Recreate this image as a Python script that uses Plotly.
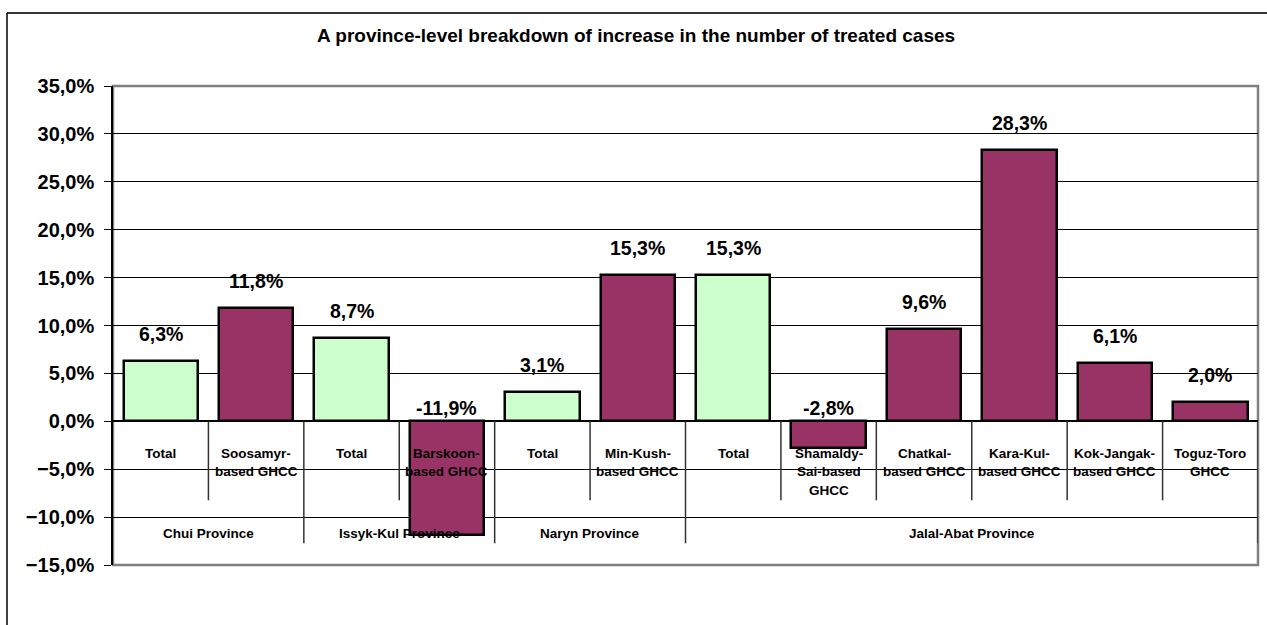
import plotly.graph_objects as go

# Data
categories = [
    "Total", "Soosamyr-<br>based GHCC",
    "Total", "Barskoon-<br>based GHCC",
    "Total", "Min-Kush-<br>based GHCC",
    "Total", "Shamaldy-<br>Sai-based<br>GHCC", "Chatkal-<br>based GHCC",
    "Kara-Kul-<br>based GHCC", "Kok-Jangak-<br>based GHCC", "Toguz-Toro<br>GHCC",
]
values = [6.3, 11.8, 8.7, -11.9, 3.1, 15.3, 15.3, -2.8, 9.6, 28.3, 6.1, 2.0]
is_total = [True, False, True, False, True, False, True, False, False, False, False, False]
provinces = ["Chui Province", "Issyk-Kul Province", "Naryn Province", "Jalal-Abat Province"]
province_sizes = [2, 2, 2, 6]

title_text = "A province-level breakdown of increase in the number of treated cases"

# Layout geometry (pixels)
W, H = 1267, 625
ML, MR, MT, MB = 113, 9, 86, 60
PW, PH = W - ML - MR, H - MT - MB
Y_MIN, Y_MAX = -15, 35
PPU = PH / (Y_MAX - Y_MIN)  # pixels per percentage point

FONT = "Liberation Sans, Arial, sans-serif"
GREEN = "#CCFFCC"
MAROON = "#993366"

x = list(range(len(values)))
colors = [GREEN if t else MAROON for t in is_total]

fig = go.Figure()
fig.add_trace(go.Bar(
    x=x, y=values, width=0.78,
    marker=dict(color=colors, line=dict(color="black", width=2.5)),
    hoverinfo="skip",
))

annotations = []
# value labels
for xi, v in zip(x, values):
    txt = f"{v:.1f}".replace(".", ",") + "%"
    if v >= 0:
        yy, ys = v, 27
    else:
        yy, ys = 0, 13
    annotations.append(dict(x=xi, y=yy, yshift=ys, text=txt, showarrow=False,
                            xref="x", yref="y",
                            font=dict(family=FONT, size=19.5, color="black", weight="bold")))

# category labels, one annotation per line
for xi, lab in zip(x, categories):
    for k, line in enumerate(lab.split("<br>")):
        annotations.append(dict(x=xi, y=0, yshift=-32 - 18.5 * k, text=line, showarrow=False,
                                xref="x", yref="y",
                                font=dict(family=FONT, size=13.5, color="black", weight="bold")))

# province labels and separators
shapes = []
inner_len = 79 / PPU
outer_len = 122 / PPU
start = 0
prov_bounds = []
for name, n in zip(provinces, province_sizes):
    center = start + (n - 1) / 2
    annotations.append(dict(x=center, y=0, yshift=-112, text=name, showarrow=False,
                            xref="x", yref="y",
                            font=dict(family=FONT, size=13.5, color="black", weight="bold")))
    start += n
    prov_bounds.append(start - 0.5)

for b in [i + 0.5 for i in range(len(values))]:
    length = outer_len if b in prov_bounds else inner_len
    shapes.append(dict(type="line", xref="x", yref="y", x0=b, x1=b, y0=0, y1=-length,
                       line=dict(color="#333333", width=1.5), layer="above"))

# plot-area border (grey)
shapes.append(dict(type="rect", xref="paper", yref="paper", x0=0, x1=1, y0=0, y1=1,
                   line=dict(color="#808080", width=2.5), layer="below"))

# outer chart frame
def px_x(p):
    return (p - ML) / PW

def px_y(p):
    return 1 - (p - MT) / PH

shapes.append(dict(type="line", xref="paper", yref="paper",
                   x0=px_x(7), x1=px_x(W + 10), y0=px_y(13), y1=px_y(13),
                   line=dict(color="#333333", width=2)))
shapes.append(dict(type="line", xref="paper", yref="paper",
                   x0=px_x(7), x1=px_x(7), y0=px_y(13), y1=px_y(H + 10),
                   line=dict(color="black", width=1.5)))

annotations.append(dict(xref="paper", yref="paper", x=px_x(W / 2 + 2), y=px_y(36),
                        text=title_text, showarrow=False, xanchor="center", yanchor="middle",
                        font=dict(family=FONT, size=19, color="black", weight="bold")))

fig.update_layout(
    width=W, height=H,
    margin=dict(l=ML, r=MR, t=MT, b=MB),
    paper_bgcolor="white", plot_bgcolor="white",
    separators=",.",
    showlegend=False,
    bargap=0,
    annotations=annotations,
    shapes=shapes,
    xaxis=dict(range=[-0.5, len(values) - 0.5], showticklabels=False, showgrid=False,
               zeroline=False, ticks="", fixedrange=True),
    yaxis=dict(range=[Y_MIN, Y_MAX], dtick=5, tick0=0, tickformat=".1f", ticksuffix="%",
               showgrid=True, gridcolor="black", gridwidth=1,
               zeroline=True, zerolinecolor="black", zerolinewidth=1.5,
               showline=True, linecolor="black", linewidth=1.5,
               ticks="outside", ticklen=7, tickcolor="black",
               ticklabelstandoff=6,
               tickfont=dict(family=FONT, size=20, color="black", weight="bold"),
               fixedrange=True),
)

fig.write_html("out.html")
